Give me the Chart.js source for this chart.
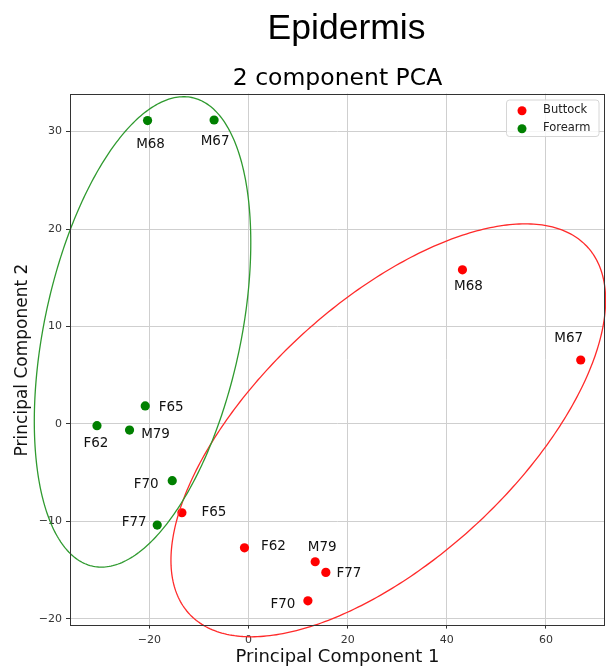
<!DOCTYPE html>
<html><head><meta charset="utf-8">
<script src="https://cdn.jsdelivr.net/npm/chart.js@4.4.1/dist/chart.umd.min.js"></script>
<style>html,body{margin:0;padding:0;background:#fff;}canvas{display:block;}</style>
</head><body>
<canvas id="c" width="606" height="667"></canvas>
<script>
// ---- data ----
const subjects = ['M68', 'M67', 'F65', 'F62', 'M79', 'F70', 'F77'];
const seriesNames = ['Buttock', 'Forearm'];
const buttockX = [43.15, 67.0, -13.43, -0.81, 13.45, 11.98, 15.6];
const buttockY = [15.81, 6.56, -9.12, -12.72, -14.15, -18.16, -15.24];
const forearmX = [-20.36, -6.94, -20.83, -30.56, -23.99, -15.38, -18.41];
const forearmY = [31.13, 31.19, 1.84, -0.18, -0.63, -5.83, -10.38];
const xTicks = [-20, 0, 20, 40, 60];
const yTicks = [-20, -10, 0, 10, 20, 30];
// ellipse: centre x, centre y, half extent x, half extent y, correlation
const buttockEllipse = [28.19, -0.66, 43.83, 21.19, 0.63];
const forearmEllipse = [-21.37, 9.44, 21.83, 24.14, 0.38];

// ---- presentation ----
const colors = ['#ff0000', '#008000'];
const ellipseColors = ['#ff2a2a', '#2f9a2f'];
const labelOffsets = [
  [[6,17],[-12,-21],[32,0],[29,-1],[7,-14],[-25,4],[23,1]],
  [[3,24],[1,21],[26,2],[-1,18],[26,4],[-26,4],[-23,-3]]
];
const ellipses = [buttockEllipse, forearmEllipse];
const FONT = "'DejaVu Sans', sans-serif";

function pts(xs, ys) { return xs.map((x, i) => ({x: x, y: ys[i]})); }

const overlay = {
  id: 'overlay',
  afterDatasetsDraw(chart) {
    const ctx = chart.ctx, xs = chart.scales.x, ys = chart.scales.y;
    ellipses.forEach((e, k) => {
      const [cx, cy, hx, hy, r] = e;
      const phi = Math.acos(r);
      ctx.save();
      ctx.beginPath();
      for (let i = 0; i <= 360; i++) {
        const t = i * Math.PI / 180;
        const px = xs.getPixelForValue(cx + hx * Math.cos(t));
        const py = ys.getPixelForValue(cy + hy * Math.cos(t - phi));
        if (i === 0) ctx.moveTo(px, py); else ctx.lineTo(px, py);
      }
      ctx.closePath();
      ctx.strokeStyle = ellipseColors[k];
      ctx.lineWidth = 1.3;
      ctx.stroke();
      ctx.restore();
    });
    ctx.save();
    ctx.font = "13.5px " + FONT;
    ctx.fillStyle = '#111';
    ctx.textAlign = 'center';
    ctx.textBaseline = 'middle';
    chart.data.datasets.forEach((ds, k) => {
      const meta = chart.getDatasetMeta(k);
      meta.data.forEach((el, i) => {
        const o = labelOffsets[k][i];
        ctx.fillText(subjects[i], el.x + o[0], el.y + o[1]);
      });
    });
    ctx.restore();
  },
  afterDraw(chart) {
    const ctx = chart.ctx, a = chart.chartArea;
    ctx.save();
    ctx.strokeStyle = '#333';
    ctx.lineWidth = 1;
    ctx.strokeRect(Math.round(a.left) + 0.5, Math.round(a.top) + 0.5,
                   Math.round(a.right - a.left) - 1, Math.round(a.bottom - a.top));
    ctx.fillStyle = '#000';
    ctx.textAlign = 'center';
    ctx.textBaseline = 'alphabetic';
    ctx.font = "35.5px 'Liberation Sans', Arial, sans-serif";
    ctx.fillText('Epidermis', 346.5, 39);
    ctx.font = "23.5px " + FONT;
    ctx.fillText('2 component PCA', (a.left + a.right) / 2, 85);
    ctx.font = "18px " + FONT;
    ctx.fillStyle = '#111';
    ctx.fillText('Principal Component 1', (a.left + a.right) / 2, 662);
    ctx.save();
    ctx.font = "17px " + FONT;
    ctx.translate(27, 360);
    ctx.rotate(-Math.PI / 2);
    ctx.fillText('Principal Component 2', 0, 0);
    ctx.restore();
    // legend
    const bx = 506.5, by = 100, bw = 92.5, bh = 36.5, rr = 3;
    ctx.beginPath();
    ctx.moveTo(bx + rr, by);
    ctx.arcTo(bx + bw, by, bx + bw, by + bh, rr);
    ctx.arcTo(bx + bw, by + bh, bx, by + bh, rr);
    ctx.arcTo(bx, by + bh, bx, by, rr);
    ctx.arcTo(bx, by, bx + bw, by, rr);
    ctx.closePath();
    ctx.fillStyle = 'rgba(255,255,255,0.8)';
    ctx.fill();
    ctx.strokeStyle = '#d6d6d6';
    ctx.stroke();
    ctx.textAlign = 'left';
    ctx.textBaseline = 'middle';
    ctx.font = "11.5px " + FONT;
    chart.data.datasets.forEach((ds, k) => {
      const y = 110.7 + k * 18;
      ctx.beginPath();
      ctx.arc(522, y, 4.5, 0, Math.PI * 2);
      ctx.fillStyle = ds.backgroundColor;
      ctx.fill();
      ctx.fillStyle = '#222';
      ctx.fillText(ds.label, 543, y - 0.5);
    });
    ctx.restore();
  }
};

const tickFmt = v => String(v).replace('-', '\u2212');

new Chart(document.getElementById('c'), {
  type: 'scatter',
  data: {
    datasets: [
      {label: seriesNames[0], data: pts(buttockX, buttockY), backgroundColor: colors[0], borderColor: colors[0], pointRadius: 4.6, pointHoverRadius: 4.6, borderWidth: 0},
      {label: seriesNames[1], data: pts(forearmX, forearmY), backgroundColor: colors[1], borderColor: colors[1], pointRadius: 4.6, pointHoverRadius: 4.6, borderWidth: 0}
    ]
  },
  options: {
    responsive: false,
    animation: false,
    devicePixelRatio: 1,
    layout: {autoPadding: false, padding: {top: 93.6, right: 1, bottom: 0, left: 0}},
    plugins: {legend: {display: false}, tooltip: {enabled: false}, title: {display: false}},
    scales: {
      x: {
        type: 'linear', min: -36.0, max: 71.9,
        afterBuildTicks: s => { s.ticks = xTicks.map(v => ({value: v})); },
        afterFit: s => { s.height = 42.4; s.paddingLeft = 0; s.paddingRight = 0; s.paddingTop = 0; s.paddingBottom = 0; },
        grid: {color: '#cfcfcf', lineWidth: 1, tickColor: '#333', tickLength: 4, drawTicks: true},
        border: {display: false},
        ticks: {callback: tickFmt, font: {family: FONT, size: 11}, color: '#333', padding: 5, maxRotation: 0}
      },
      y: {
        type: 'linear', min: -20.6, max: 33.9,
        afterBuildTicks: s => { s.ticks = yTicks.map(v => ({value: v})); },
        afterFit: s => { s.width = 70; s.paddingLeft = 0; s.paddingRight = 0; s.paddingTop = 0; s.paddingBottom = 0; },
        grid: {color: '#cfcfcf', lineWidth: 1, tickColor: '#333', tickLength: 4, drawTicks: true},
        border: {display: false},
        ticks: {callback: tickFmt, font: {family: FONT, size: 11}, color: '#333', padding: 4}
      }
    }
  },
  plugins: [overlay]
});
</script>
</body></html>
